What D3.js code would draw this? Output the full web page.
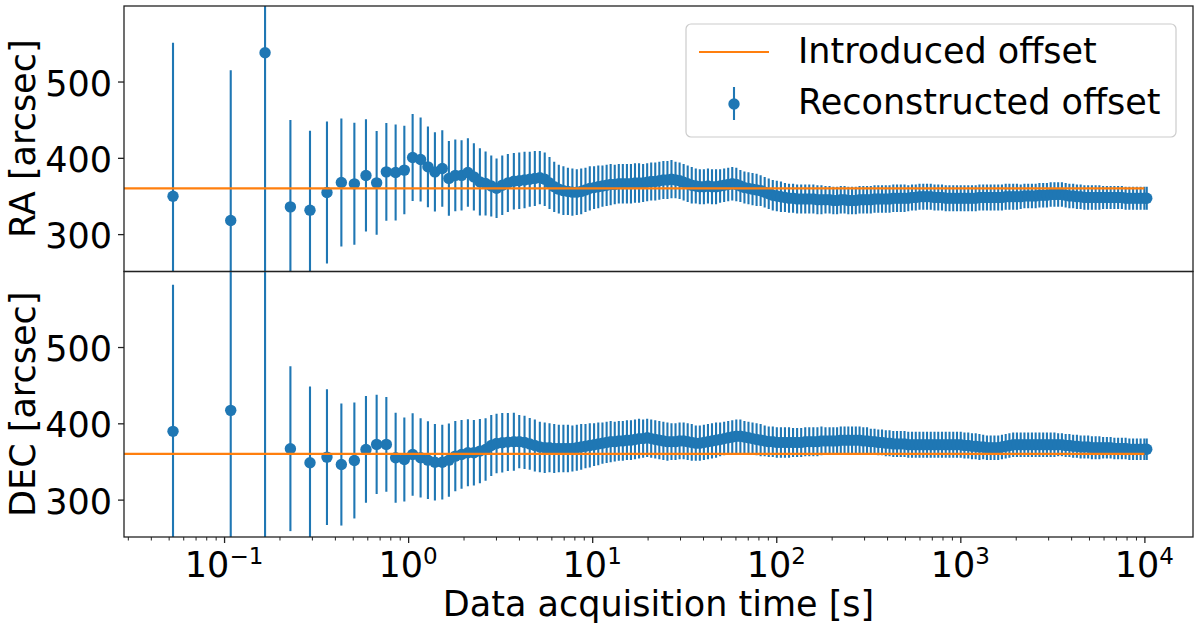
<!DOCTYPE html>
<html>
<head>
<meta charset="utf-8">
<script src="https://cdn.jsdelivr.net/npm/d3@7"></script>
<style>
body { margin:0; background:#fff; }
svg { display:block; font-family:"DejaVu Sans", sans-serif; }
</style>
</head>
<body>
<svg></svg>
<script>

// data acquisition time [s]
var times = [0.0528, 0.1087, 0.167, 0.2293, 0.293, 0.3623, 0.4338, 0.5104, 0.5901, 0.6745,
  0.7614, 0.8553, 0.9537, 1.058, 1.169, 1.281, 1.398, 1.533, 1.665, 1.804,
  1.951, 2.112, 2.276, 2.454, 2.635, 2.829, 3.023, 3.246, 3.482, 3.753,
  4.015, 4.29, 4.578, 4.879, 5.194, 5.522, 5.863, 6.218, 6.586, 6.976,
  7.379, 7.806, 8.248, 8.715, 9.196, 9.704, 10.24, 10.79, 11.37, 11.98,
  12.6, 13.26, 13.95, 14.67, 15.44, 16.24, 17.08, 17.97, 18.91, 19.89,
  20.92, 22.01, 23.16, 24.36, 25.63, 26.96, 28.36, 29.84, 31.39, 33.02,
  34.74, 36.54, 38.44, 40.44, 42.55, 44.76, 47.09, 49.54, 52.11, 54.82,
  57.67, 60.67, 63.83, 67.15, 70.64, 74.31, 78.18, 82.24, 86.52, 91.02,
  95.75, 100.7, 106, 111.5, 117.3, 123.4, 129.8, 136.6, 143.7, 151.1,
  159, 167.3, 176, 185.1, 194.8, 204.2, 214, 224.2, 235, 246.3,
  258.1, 270.5, 283.5, 297.1, 311.3, 326.3, 341.9, 358.3, 375.5, 393.6,
  412.5, 432.3, 453, 474.8, 497.5, 521.4, 546.5, 572.7, 600.2, 629,
  659.2, 690.8, 724, 758.7, 795.1, 833.3, 873.3, 915.2, 959.1, 1005,
  1053, 1104, 1157, 1212, 1270, 1331, 1395, 1462, 1532, 1606,
  1683, 1764, 1848, 1937, 2030, 2128, 2230, 2337, 2449, 2566,
  2690, 2819, 2954, 3096, 3245, 3400, 3564, 3735, 3914, 4102,
  4299, 4505, 4721, 4948, 5185, 5434, 5695, 5968, 6255, 6555,
  6870, 7199, 7545, 7907, 8286, 8684, 9101, 9538, 9996, 10300]

// RA reconstructed offset [arcsec] and its error
var raOffset = [349.7, 317.8, 537.8, 335.7, 331.4, 354.6, 367.7, 365.9, 376.9, 367.2,
  381.6, 380.8, 383.9, 400.5, 397.9, 388.2, 381.6, 386, 373, 377,
  377, 380.8, 375, 368.5, 366.4, 363, 360, 364, 367, 369.4,
  370, 371, 372, 373, 374, 372, 367, 362, 359, 357,
  356, 355, 355, 356, 358, 360, 361, 362, 363, 364,
  365, 365, 366, 366, 366, 366, 367, 367, 367, 368,
  369, 369, 370, 371, 371, 372, 371, 370, 368, 366,
  364, 363, 362, 362, 363, 362, 362, 363, 364, 365,
  366, 365, 363, 361, 360, 359, 358, 357, 355, 353,
  351, 350, 349, 348, 347, 347, 346, 346, 346, 346,
  346, 345, 345, 345, 345, 344, 344, 345, 345, 344,
  344, 344, 345, 345, 345, 345, 346, 346, 346, 346,
  346, 347, 347, 347, 347, 347, 348, 348, 349, 349,
  349, 349, 348, 348, 348, 347, 347, 347, 347, 347,
  347, 347, 347, 347, 348, 348, 348, 348, 348, 348,
  348, 349, 349, 349, 349, 349, 350, 350, 350, 350,
  351, 351, 351, 352, 352, 352, 352, 351, 350, 350,
  349, 349, 348, 348, 348, 348, 348, 348, 348, 348,
  348, 348, 348, 347, 347, 347, 347, 347, 347, 347]

var raError = [201, 197, 300, 114, 104, 93, 84, 80, 73.5, 68,
  64, 63, 58, 57, 55, 53, 52, 50, 49, 47,
  46, 45, 44, 44, 42, 40, 39, 39, 38, 37,
  37, 37, 36, 36, 35, 35, 34, 33, 32, 32,
  31, 31, 30, 30, 29, 29, 28, 28, 27, 27,
  27, 26, 26, 26, 26, 26, 26, 26, 25, 25,
  25, 25, 25, 25, 25, 25, 24, 24, 24, 24,
  24, 23, 23, 23, 23, 23, 23, 22, 22, 22,
  22, 22, 21, 21, 21, 21, 21, 20, 20, 20,
  20, 20, 20, 19, 19, 19, 19, 19, 19, 19,
  19, 19, 19, 18, 18, 18, 18, 18, 18, 18,
  18, 18, 18, 18, 18, 18, 18, 18, 18, 18,
  18, 18, 18, 18, 18, 17, 17, 17, 17, 17,
  17, 17, 17, 17, 17, 17, 17, 17, 17, 17,
  17, 17, 17, 17, 17, 17, 17, 17, 17, 17,
  17, 17, 17, 17, 17, 16, 16, 16, 16, 16,
  16, 16, 16, 16, 16, 16, 16, 16, 16, 16,
  16, 16, 16, 16, 16, 16, 16, 15, 15, 15,
  15, 15, 15, 15, 15, 15, 15, 15, 15, 15]

// DEC reconstructed offset [arcsec] and its error
var decOffset = [389.5, 417, 230, 366.7, 348.3, 355.7, 346, 351.3, 365.8, 372.4,
  372.4, 354.8, 352.6, 359.2, 354.8, 351.7, 349, 349, 351.7, 357,
  359.2, 361.4, 361.4, 363.6, 365.8, 371, 373.7, 374.6, 375.4, 376,
  376, 375, 373, 371, 369, 368, 368, 367, 367, 367,
  367, 367, 368, 369, 370, 371, 372, 373, 374, 375,
  376, 376, 377, 377, 378, 378, 379, 380, 380, 381,
  380, 379, 378, 377, 376, 376, 376, 377, 377, 376,
  375, 374, 374, 375, 376, 377, 378, 379, 380, 381,
  382, 383, 383, 382, 381, 380, 379, 378, 377, 376,
  376, 375, 375, 375, 375, 375, 375, 375, 376, 376,
  376, 376, 377, 377, 377, 377, 377, 378, 378, 378,
  378, 378, 378, 377, 377, 376, 376, 375, 375, 374,
  374, 373, 373, 373, 373, 372, 372, 372, 372, 372,
  372, 372, 372, 372, 372, 372, 372, 372, 372, 372,
  371, 371, 370, 370, 369, 369, 368, 368, 368, 368,
  369, 370, 371, 372, 372, 372, 372, 372, 372, 372,
  372, 372, 372, 372, 372, 372, 372, 371, 371, 370,
  370, 369, 369, 369, 368, 368, 368, 368, 368, 368,
  367, 367, 367, 367, 366, 366, 366, 366, 366, 366]

var decError = [192, 200, 400, 108, 100, 89, 80, 76, 70, 65,
  62, 59, 55, 54, 52, 51, 50, 49, 48, 46,
  45, 44, 43, 42, 41, 40, 39, 39, 38, 38,
  35, 35, 34, 34, 33, 33, 32, 32, 31, 31,
  31, 30, 30, 30, 29, 29, 28, 28, 27, 27,
  27, 26, 26, 26, 26, 26, 26, 26, 25, 25,
  25, 25, 25, 25, 25, 24, 24, 24, 24, 24,
  24, 23, 23, 23, 23, 23, 23, 22, 22, 22,
  22, 22, 22, 21, 21, 21, 21, 21, 20, 20,
  20, 20, 20, 20, 20, 19, 19, 19, 19, 19,
  19, 19, 19, 18, 18, 18, 18, 18, 18, 18,
  18, 18, 18, 18, 18, 17, 17, 17, 17, 17,
  17, 17, 17, 17, 17, 17, 17, 17, 17, 17,
  17, 17, 17, 17, 17, 17, 17, 17, 17, 17,
  17, 17, 17, 17, 17, 16, 16, 16, 16, 16,
  16, 16, 16, 16, 16, 16, 16, 16, 16, 16,
  16, 16, 16, 16, 16, 15, 15, 15, 15, 15,
  15, 15, 15, 15, 15, 15, 15, 14, 14, 14,
  14, 14, 14, 14, 14, 14, 14, 14, 14, 14]

var introducedOffset = 360
var introducedEnd = 10000
var yTicks = [300, 400, 500]
var xTickExponents = ["\u22121", "0", "1", "2", "3", "4"]
var panelLabels = ["RA [arcsec]", "DEC [arcsec]"]
var legendLabels = ["Introduced offset", "Reconstructed offset"]


var screen = {width:1200, height:629}
var margins = {top:6, right:7, left:124, bottom:92}
var blue = "#1f77b4"
var orange = "#ff7f0e"
var fontSize = 35
var markerRadius = 5.7

var width = screen.width - margins.left - margins.right
var panelHeight = (screen.height - margins.top - margins.bottom) / 2

var svg = d3.select("svg")
    .attr("width", screen.width)
    .attr("height", screen.height)

var xScale = d3.scaleLog()
    .domain([0.0286, 18370])
    .range([margins.left, margins.left + width])


var drawPanel = function(index, values, errors, label)
{
    var top = margins.top + index * panelHeight
    var bottom = top + panelHeight

    var yScale = d3.scaleLinear()
        .domain([251, 599])
        .range([bottom, top])

    var points = times.map(function(t, i)
    {
        return {t: t, v: values[i], e: errors[i]}
    })

    svg.append("clipPath")
        .attr("id", "clip" + index)
        .append("rect")
        .attr("x", margins.left)
        .attr("y", top)
        .attr("width", width)
        .attr("height", panelHeight)

    var plot = svg.append("g")
        .attr("clip-path", "url(#clip" + index + ")")

    // error bars
    plot.append("g")
        .selectAll("line")
        .data(points)
        .enter()
        .append("line")
        .attr("x1", function(d){ return xScale(d.t) })
        .attr("x2", function(d){ return xScale(d.t) })
        .attr("y1", function(d){ return yScale(d.v - d.e) })
        .attr("y2", function(d){ return yScale(d.v + d.e) })
        .attr("stroke", blue)
        .attr("stroke-width", 2.1)

    // markers
    plot.append("g")
        .selectAll("circle")
        .data(points)
        .enter()
        .append("circle")
        .attr("cx", function(d){ return xScale(d.t) })
        .attr("cy", function(d){ return yScale(d.v) })
        .attr("r", markerRadius)
        .attr("fill", blue)

    // introduced offset
    var line = d3.line()
        .x(function(d){ return xScale(d[0]) })
        .y(function(d){ return yScale(d[1]) })

    plot.append("path")
        .attr("d", line([[xScale.domain()[0], introducedOffset], [introducedEnd, introducedOffset]]))
        .attr("stroke", orange)
        .attr("stroke-width", 2.2)
        .attr("fill", "none")

    // y axis
    var yAxis = svg.append("g")
        .attr("transform", "translate(" + margins.left + ",0)")
        .call(d3.axisLeft(yScale).tickValues(yTicks).tickSize(6).tickPadding(6))

    yAxis.select(".domain").remove()
    yAxis.selectAll("line").attr("stroke", "#222").attr("stroke-width", 1.3)
    yAxis.selectAll("text")
        .attr("font-family", "DejaVu Sans")
        .attr("font-size", fontSize)
        .attr("dy", "0.39em")
        .attr("fill", "#000")

    svg.append("text")
        .attr("transform", "translate(34.5," + ((top + bottom) / 2) + ") rotate(-90)")
        .attr("text-anchor", "middle")
        .attr("font-size", fontSize)
        .text(label)

    svg.append("rect")
        .attr("x", margins.left)
        .attr("y", top)
        .attr("width", width)
        .attr("height", panelHeight)
        .attr("fill", "none")
        .attr("stroke", "#222")
        .attr("stroke-width", 1.3)

    return bottom
}


var setup = function()
{
    drawPanel(0, raOffset, raError, panelLabels[0])
    var axisY = drawPanel(1, decOffset, decError, panelLabels[1])

    var logTicks = xScale.ticks()
    var minor = logTicks.filter(function(t){ return Math.abs(Math.log10(t) - Math.round(Math.log10(t))) > 1e-6 })
    var major = xTickExponents.map(function(e){ return Math.pow(10, +e.replace("\u2212", "-")) })

    var minorAxis = svg.append("g")
        .attr("transform", "translate(0," + axisY + ")")
        .call(d3.axisBottom(xScale).tickValues(minor).tickSize(3.5).tickFormat(""))
    minorAxis.select(".domain").remove()
    minorAxis.selectAll("line").attr("stroke", "#222").attr("stroke-width", 1)

    var majorAxis = svg.append("g")
        .attr("transform", "translate(0," + axisY + ")")
        .call(d3.axisBottom(xScale).tickValues(major).tickSize(6).tickFormat(""))
    majorAxis.select(".domain").remove()
    majorAxis.selectAll("line").attr("stroke", "#222").attr("stroke-width", 1.3)

    var labels = svg.append("g")
        .selectAll("text")
        .data(major)
        .enter()
        .append("text")
        .attr("x", function(d){ return xScale(d) })
        .attr("y", axisY + 40)
        .attr("text-anchor", "middle")
        .attr("font-size", fontSize)

    labels.append("tspan").text("10")
    labels.append("tspan")
        .attr("font-size", 23)
        .attr("dy", -13)
        .text(function(d, i){ return xTickExponents[i] })

    svg.append("text")
        .attr("x", margins.left + width / 2)
        .attr("y", 616)
        .attr("text-anchor", "middle")
        .attr("font-size", fontSize)
        .text("Data acquisition time [s]")

    drawLegend()
}


var drawLegend = function()
{
    var legend = svg.append("g")

    legend.append("rect")
        .attr("x", 686)
        .attr("y", 24)
        .attr("width", 490)
        .attr("height", 113)
        .attr("rx", 5)
        .attr("fill", "#fff")
        .attr("fill-opacity", 0.8)
        .attr("stroke", "#cccccc")
        .attr("stroke-width", 1.2)

    legend.append("line")
        .attr("x1", 699).attr("x2", 769)
        .attr("y1", 52).attr("y2", 52)
        .attr("stroke", orange)
        .attr("stroke-width", 2.2)

    legend.append("line")
        .attr("x1", 734).attr("x2", 734)
        .attr("y1", 87).attr("y2", 120)
        .attr("stroke", blue)
        .attr("stroke-width", 2.1)

    legend.append("circle")
        .attr("cx", 734)
        .attr("cy", 104)
        .attr("r", markerRadius)
        .attr("fill", blue)

    legend.selectAll("text")
        .data(legendLabels)
        .enter()
        .append("text")
        .attr("x", 798)
        .attr("y", function(d, i){ return i == 0 ? 63.3 : 114.3 })
        .attr("font-size", fontSize)
        .text(function(d){ return d })
}

setup()

</script>
</body>
</html>
